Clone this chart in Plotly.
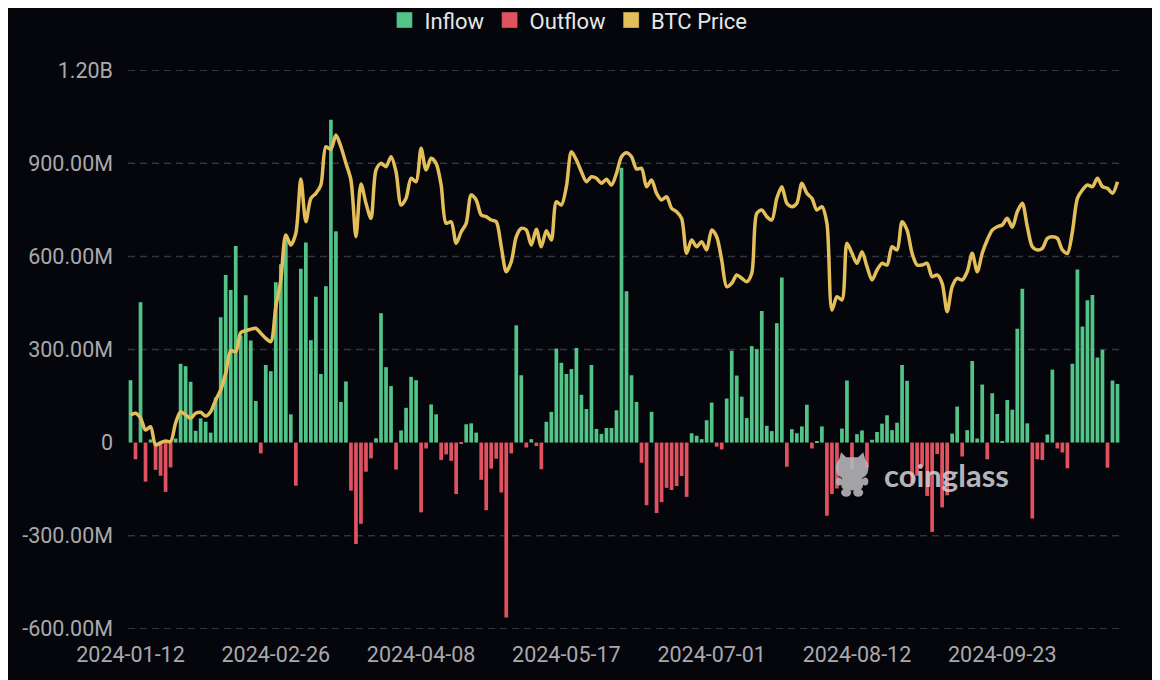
import base64

import pandas as pd
import plotly.graph_objects as go

# Trading days (NYSE calendar) covered by the chart: 2024-01-12 .. 2024-10-24
START_DATE = "2024-01-12"
END_DATE = "2024-10-24"
MARKET_HOLIDAYS = ["2024-01-15", "2024-02-19", "2024-03-29", "2024-05-27",
                   "2024-06-19", "2024-07-04", "2024-09-02"]

# Daily net flow, millions of USD
NET_FLOW_M = [
    201, -54, 452, -126, 10, -88, -107, -159, -80, 13,
    254, 246, 196, 38, 78, 67, 32, 145, 404, 540,
    492, 634, 345, 475, 329, 134, -35, 250, 230, 517,
    575, 655, 91, -139, 560, 645, 330, 470, 221, 504,
    1041, 681, 131, 197, -155, -327, -262, -94, -51, 14,
    417, 243, 182, -87, 39, 112, 212, 201, -225, -19,
    123, 91, -56, -38, -59, -166, -3, 59, 62, 32,
    -120, -218, -84, -52, -161, -564, -35, 378, 217, -16,
    11, -11, -86, 67, 99, 303, 257, 221, 237, 305,
    154, 108, 250, 44, 28, 47, 47, 104, 886, 488,
    217, 131, -65, -202, 99, -227, -192, -146, -153, -140,
    -108, -175, 30, 22, 11, 72, 129, -13, -22, 142,
    296, 216, 148, 79, 311, 301, 424, 54, 37, 385,
    532, -78, 43, 30, 52, 122, -19, 2, 52, -236,
    -166, -148, 45, 200, -86, 27, 39, -80, 9, 34,
    61, 88, 40, 64, 250, 199, -129, -107, -75, -172,
    -288, -37, -209, -170, 29, 116, -45, 40, 263, 13,
    187, -54, 159, 92, 5, 137, 106, 367, 496, 62,
    -245, -54, -56, 26, 235, -19, -32, -83, 254, 558,
    374, 459, 476, 274, 299, -81, 200, 189,
]

# BTC price, USD
BTC_PRICE = [
    42540, 42720, 42210, 40910, 41270, 39290, 39540, 39720, 39650, 41670,
    42900, 42540, 42180, 42720, 42830, 42430, 42900, 44170, 45250, 47060,
    49510, 49400, 51460, 51680, 51830, 51940, 51400, 50850, 50490, 54280,
    57170, 62050, 60970, 62240, 68120, 63490, 66030, 66570, 67470, 71620,
    71340, 72890, 71620, 69820, 68010, 61870, 67580, 65490, 63860, 69100,
    69820, 69460, 70540, 68910, 65300, 66030, 68200, 67830, 71450, 69100,
    70370, 69820, 67470, 63320, 63490, 61150, 62380, 63320, 66390, 65850,
    64220, 64040, 63680, 63490, 60780, 58070, 59160, 61870, 62780, 62590,
    60970, 62670, 60780, 62520, 61510, 65660, 65300, 67290, 71080, 70180,
    68910, 67830, 68370, 68200, 67660, 68090, 67470, 68740, 70540, 70970,
    70540, 69210, 69280, 67290, 68010, 66570, 65850, 66200, 64950, 64580,
    63860, 60070, 61510, 60780, 61330, 60430, 62590, 61870, 59340, 56450,
    56820, 57720, 57360, 56990, 57900, 64400, 64760, 64040, 63680, 66030,
    67290, 65490, 65120, 65490, 67660, 66570, 66030, 64760, 65120, 63320,
    53920, 55360, 55010, 61150, 60070, 58980, 60240, 58620, 57170, 58260,
    58980, 58800, 60780, 60430, 63490, 62590, 60070, 58800, 58800, 58980,
    57530, 57720, 56820, 53740, 56450, 57360, 57170, 58070, 60070, 58070,
    60070, 61510, 62590, 62950, 63140, 63860, 62890, 64580, 65490, 62950,
    60780, 60430, 60610, 61690, 61870, 61690, 60430, 60070, 62410, 66030,
    66930, 67470, 67290, 68200, 67290, 67110, 66570, 67830,
]

X_TICK_LABELS = ["2024-01-12", "2024-02-26", "2024-04-08", "2024-05-17",
                 "2024-07-01", "2024-08-12", "2024-09-23"]
Y_TICKS = [-600, -300, 0, 300, 600, 900, 1200]
Y_TICK_TEXT = ["-600.00M", "-300.00M", "0", "300.00M", "600.00M", "900.00M", "1.20B"]

BG = "#05060b"
GREEN = "#52c488"
RED = "#e05260"
GOLD = "#e3be5b"
GRID = "#34353b"
TICK_GREY = "#a9a9ad"
FONT = "Roboto"

dates = pd.bdate_range(START_DATE, END_DATE, freq="C",
                       holidays=MARKET_HOLIDAYS).strftime("%Y-%m-%d").tolist()
assert len(dates) == len(NET_FLOW_M) == len(BTC_PRICE)

inflow = [v if v >= 0 else None for v in NET_FLOW_M]
outflow = [v if v < 0 else None for v in NET_FLOW_M]

fig = go.Figure()

fig.add_trace(go.Bar(
    x=dates, y=inflow, name="Inflow", legendgroup="in", showlegend=False,
    marker=dict(color=GREEN, line=dict(width=0)),
    hovertemplate="%{x}<br>Inflow: %{y:.1f}M<extra></extra>",
))
fig.add_trace(go.Bar(
    x=dates, y=outflow, name="Outflow", legendgroup="out", showlegend=False,
    marker=dict(color=RED, line=dict(width=0)),
    hovertemplate="%{x}<br>Outflow: %{y:.1f}M<extra></extra>",
))
fig.add_trace(go.Scatter(
    x=dates, y=BTC_PRICE, name="BTC Price", legendgroup="px", showlegend=False,
    yaxis="y2", mode="lines",
    line=dict(color=GOLD, width=3.5, shape="spline", smoothing=0.8),
    hovertemplate="%{x}<br>BTC: $%{y:,.0f}<extra></extra>",
))

# square legend swatches, like the original
for name, color, group in [("Inflow", GREEN, "in"), ("Outflow", RED, "out"),
                           ("BTC Price", GOLD, "px")]:
    fig.add_trace(go.Scatter(
        x=[None], y=[None], mode="markers", name=name, legendgroup=group,
        marker=dict(symbol="square", size=16, color=color,
                    line=dict(width=1, color="rgba(0,0,0,0.35)")),
        hoverinfo="skip",
    ))

# dashed gridlines (none at zero, as in the original)
shapes = [
    dict(type="line", xref="paper", x0=0, x1=1, yref="y", y0=v, y1=v,
         line=dict(color=GRID, width=1.5, dash="7px,5px"), layer="below")
    for v in Y_TICKS if v != 0
]

# coinglass watermark: small mascot + wordmark
mascot_svg = (
    "<svg xmlns='http://www.w3.org/2000/svg' width='36' height='46' viewBox='0 0 36 46'>"
    "<g fill='#b5b5b8'>"
    "<path d='M4 12 L7 1 L13 7 L23 7 L29 1 L32 12 Z'/>"
    "<rect x='2' y='6' width='32' height='21' rx='9'/>"
    "<rect x='7' y='24' width='22' height='15' rx='6'/>"
    "<ellipse cx='5' cy='30' rx='3' ry='4'/>"
    "<ellipse cx='31' cy='30' rx='3' ry='4'/>"
    "<ellipse cx='12' cy='41' rx='5' ry='4'/>"
    "<ellipse cx='24' cy='41' rx='5' ry='4'/>"
    "</g></svg>"
)
mascot_src = "data:image/svg+xml;base64," + base64.b64encode(mascot_svg.encode()).decode()

# the page body adds an 8px offset, so margins are trimmed by that much
fig.update_layout(
    width=1160, height=680,
    paper_bgcolor=BG, plot_bgcolor=BG,
    margin=dict(l=120, r=48, t=62, b=59, autoexpand=False),
    font=dict(family=FONT, color=TICK_GREY, size=21),
    barmode="relative", bargap=0.26,
    showlegend=True,
    legend=dict(
        orientation="h", x=0.444, xanchor="center", y=1.089, yanchor="middle",
        font=dict(family=FONT, size=22, color="#e6e6e8"),
        bgcolor="rgba(0,0,0,0)", itemclick="toggle",
    ),
    xaxis=dict(
        type="category", categoryorder="array", categoryarray=dates,
        tickmode="array", tickvals=X_TICK_LABELS, ticktext=X_TICK_LABELS,
        showgrid=False, zeroline=False, showline=False, ticks="",
        tickfont=dict(family=FONT, size=21.5, color=TICK_GREY),
        ticklabelstandoff=10, range=[-0.5, len(dates) - 0.5],
    ),
    yaxis=dict(
        range=[-601, 1201], tickmode="array", tickvals=Y_TICKS, ticktext=Y_TICK_TEXT,
        showgrid=False, zeroline=False, showline=False, ticks="",
        tickfont=dict(family=FONT, size=21.5, color=TICK_GREY),
        ticklabelstandoff=14,
    ),
    yaxis2=dict(overlaying="y", side="right", range=[19340, 79940], visible=False),
    shapes=shapes,
    images=[dict(source=mascot_src, xref="paper", yref="paper",
                 x=0.7115, y=0.318, sizex=0.037, sizey=0.083,
                 xanchor="left", yanchor="top", opacity=0.9, layer="above")],
    annotations=[dict(text="coinglass", xref="paper", yref="paper",
                      x=0.8256, y=0.2755, showarrow=False,
                      font=dict(family="Lato", size=31, weight=700,
                                color="rgba(205,205,209,0.9)"),
                      xanchor="center", yanchor="middle")],
    hovermode="x unified",
)

fig.write_html("out.html")
